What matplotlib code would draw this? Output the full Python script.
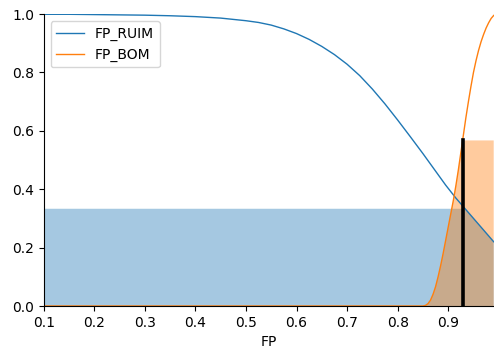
import numpy as np
import matplotlib
matplotlib.use('Agg')
import matplotlib.pyplot as plt

# universe (FP) and membership values
fp = [0.1, 0.15, 0.2, 0.25, 0.3, 0.35, 0.4, 0.45, 0.5, 0.525, 0.55, 0.575,
      0.6, 0.625, 0.65, 0.675, 0.7, 0.725, 0.75, 0.775, 0.8, 0.825, 0.85,
      0.855, 0.86, 0.865, 0.87, 0.875, 0.88, 0.885, 0.89, 0.895, 0.9, 0.905,
      0.91, 0.915, 0.92, 0.925, 0.93, 0.935, 0.94, 0.945, 0.95, 0.955, 0.96,
      0.965, 0.97, 0.975, 0.98, 0.985, 0.99]
fp_ruim = [0.999, 0.999, 0.998, 0.997, 0.996, 0.994, 0.991, 0.986, 0.977,
           0.971, 0.962, 0.949, 0.933, 0.913, 0.889, 0.861, 0.828, 0.789,
           0.743, 0.692, 0.637, 0.58, 0.522, 0.51, 0.498, 0.486, 0.474, 0.462,
           0.45, 0.438, 0.426, 0.414, 0.403, 0.392, 0.381, 0.37, 0.36, 0.35,
           0.34, 0.33, 0.32, 0.31, 0.30, 0.29, 0.28, 0.27, 0.26, 0.25, 0.24,
           0.23, 0.22]
fp_bom = [0, 0, 0, 0, 0, 0, 0, 0, 0, 0, 0, 0, 0, 0, 0, 0, 0, 0, 0, 0, 0, 0, 0,
          0.002, 0.008, 0.02, 0.04, 0.066, 0.10, 0.138, 0.18, 0.225, 0.27,
          0.315, 0.36, 0.41, 0.465, 0.525, 0.585, 0.645, 0.70, 0.752, 0.80,
          0.84, 0.875, 0.905, 0.93, 0.952, 0.97, 0.985, 0.995]
labels = ['FP_RUIM', 'FP_BOM']

# activations and crisp output
act_ruim = 0.333
act_bom = 0.567
crisp = 0.93

fp = np.array(fp)
ruim = np.array(fp_ruim)
bom = np.array(fp_bom)

fig = plt.figure(figsize=(4.94, 3.51), dpi=100)
ax = fig.add_axes([43.7 / 494, 45 / 351, 450 / 494, 292 / 351])

ax.plot(fp, ruim, lw=1.0, label=labels[0])
ax.plot(fp, bom, lw=1.0, label=labels[1])

ax.fill_between(fp, 0, np.fmin(ruim, act_ruim), facecolor='C0', alpha=0.4)
ax.fill_between(fp, 0, np.fmin(bom, act_bom), facecolor='C1', alpha=0.4)
ax.plot([crisp, crisp], [0, act_bom], 'k', lw=2.6)

ax.set_xlim(0.1, 0.99)
ax.set_ylim(0, 1.0)
ax.set_xticks(np.arange(0.1, 0.95, 0.1))
ax.set_yticks(np.arange(0, 1.01, 0.2))
ax.set_xlabel('FP')
ax.legend(loc='upper left')
ax.spines['top'].set_visible(False)
ax.spines['right'].set_visible(False)

plt.savefig('out.png', dpi=100)
